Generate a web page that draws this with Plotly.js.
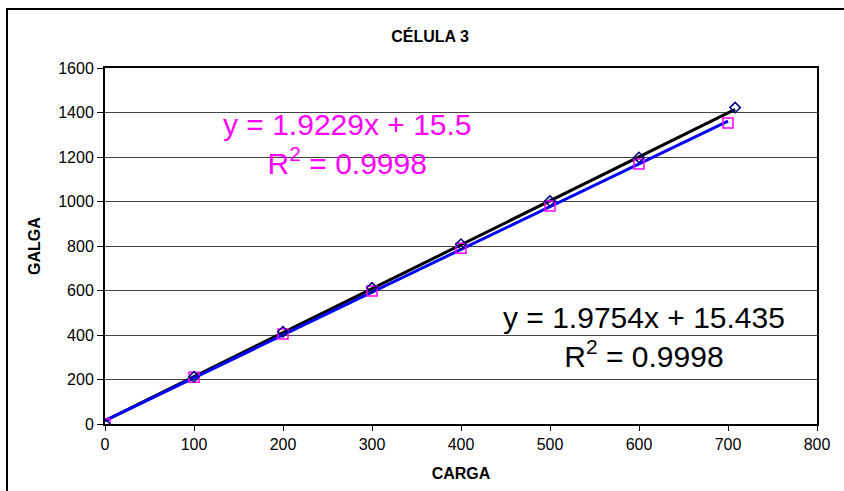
<!DOCTYPE html>
<html>
<head>
<meta charset="utf-8">
<script src="https://cdn.plot.ly/plotly-3.0.1.min.js"></script>
<style>
html,body{margin:0;padding:0;background:#fff;}
#wrap{position:relative;width:844px;height:491px;overflow:hidden;}
#chart{width:844px;height:491px;}
#frame{position:absolute;left:6px;top:8px;width:900px;height:600px;border:2px solid #000;pointer-events:none;}
</style>
</head>
<body>
<div id="wrap"><div id="chart"></div><div id="frame"></div></div>
<script>
// Series 1 (black trend, navy diamonds)
const cargaA = [0, 100, 200, 300, 400, 500, 600, 708];
const galgaA = [0, 212, 415, 612, 808, 1002, 1198, 1422];
// Series 2 (blue trend, magenta squares)
const cargaB = [0, 100, 200, 300, 400, 500, 600, 700];
const galgaB = [0, 210, 405, 598, 790, 980, 1168, 1353];
// Trendline coefficients as shown on the chart
const slopeA = 1.9754, interceptA = 15.435, r2A = "0.9998";
const slopeB = 1.9229, interceptB = 15.5, r2B = "0.9998";
const xTicks = [0, 100, 200, 300, 400, 500, 600, 700, 800];
const yTicks = [0, 200, 400, 600, 800, 1000, 1200, 1400, 1600];

function trend(xs, m, b) {
  const x0 = Math.min(...xs), x1 = Math.max(...xs);
  return {x: [x0, x1], y: [m * x0 + b, m * x1 + b]};
}
const tA = trend(cargaA, slopeA, interceptA);
const tB = trend(cargaB, slopeB, interceptB);

const FONT = "Liberation Sans, Arial, sans-serif";

const data = [
  {x: tA.x, y: tA.y, mode: "lines", line: {color: "#000000", width: 3}, hoverinfo: "skip"},
  {x: tB.x, y: tB.y, mode: "lines", line: {color: "#0000FF", width: 3}, hoverinfo: "skip"},
  {x: cargaB, y: galgaB, mode: "markers",
   marker: {symbol: "square-open", size: 10, color: "#FF00FF", line: {width: 1.5, color: "#FF00FF"}}},
  {x: cargaA, y: galgaA, mode: "markers",
   marker: {symbol: "diamond-open", size: 8, color: "#000080", line: {width: 1.5, color: "#000080"}}}
];

const layout = {
  width: 844, height: 491,
  margin: {l: 105, r: 27, t: 68, b: 67},
  paper_bgcolor: "#ffffff", plot_bgcolor: "#ffffff",
  showlegend: false,
  font: {family: FONT, color: "#000"},
  title: {text: "<b>CÉLULA 3</b>", font: {family: FONT, size: 16, color: "#000"},
          x: 430 / 844, xref: "container", xanchor: "center",
          y: 1 - 36 / 491, yref: "container", yanchor: "middle"},
  xaxis: {
    range: [0, 800], tickvals: xTicks, ticktext: xTicks.map(String),
    showgrid: false, zeroline: false,
    showline: true, mirror: true, linecolor: "#000", linewidth: 2,
    ticks: "outside", ticklen: 5, tickcolor: "#000", tickwidth: 1,
    tickfont: {family: FONT, size: 16, color: "#000"},
    title: {text: "<b>CARGA</b>", font: {family: FONT, size: 16, color: "#000"}, standoff: 16}
  },
  yaxis: {
    range: [0, 1600], tickvals: yTicks, ticktext: yTicks.map(String),
    showgrid: true, gridcolor: "#444", gridwidth: 1, zeroline: false,
    showline: true, mirror: true, linecolor: "#000", linewidth: 2,
    ticks: "outside", ticklen: 6, tickcolor: "#000", tickwidth: 1,
    tickfont: {family: FONT, size: 16, color: "#000"},
    title: {text: "<b>GALGA</b>", font: {family: FONT, size: 16, color: "#000"}, standoff: 14}
  },
  annotations: [
    {x: 272, y: 1258, xref: "x", yref: "y", showarrow: false, align: "center",
     xanchor: "center", yanchor: "middle",
     text: "y = " + slopeB + "x + " + interceptB + "<br>R<sup>2</sup> = " + r2B,
     font: {family: FONT, size: 30, color: "#FF00FF"}},
    {x: 606, y: 391, xref: "x", yref: "y", showarrow: false, align: "center",
     xanchor: "center", yanchor: "middle",
     text: "y = " + slopeA + "x + " + interceptA + "<br>R<sup>2</sup> = " + r2A,
     font: {family: FONT, size: 30, color: "#000000"}}
  ]
};

Plotly.newPlot("chart", data, layout, {displayModeBar: false, staticPlot: true});
</script>
</body>
</html>
